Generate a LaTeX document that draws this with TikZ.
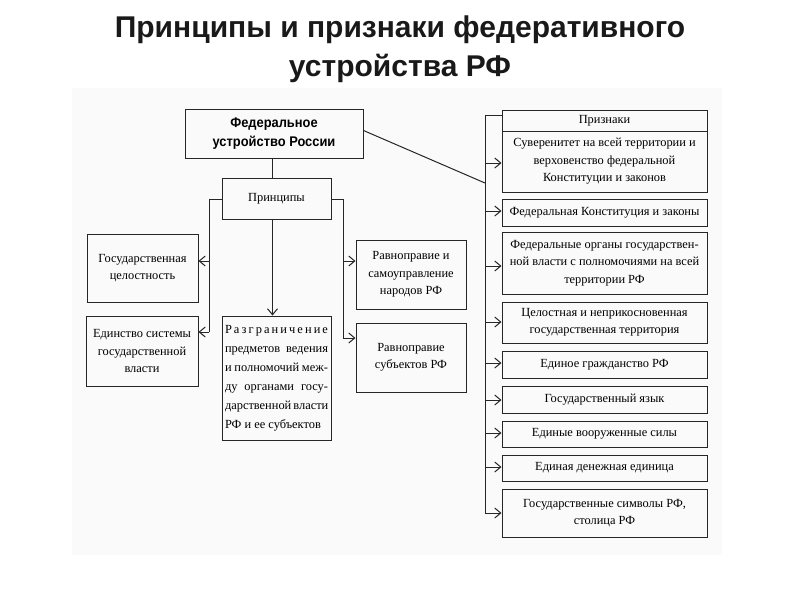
\documentclass[tikz,border=0pt]{standalone}
\usepackage{fontspec}
\setmainfont{Liberation Serif}
\newfontfamily\hsans{Liberation Sans}
\usetikzlibrary{arrows.meta}
\begin{document}
\begin{tikzpicture}[x=1pt,y=-1pt,
  box/.style={draw=black!85, line width=1pt, inner sep=2pt, align=center,
    font=\fontsize{12.4}{17.5}\selectfont, text=black},
  conn/.style={draw=black!85, line width=1pt},
  arr/.style={conn, -{Straight Barb[length=6pt,width=10pt]}}]
\useasboundingbox (0,0) rectangle (800,600);
\fill[gray!4] (72,88) rectangle (722,555);
% title
\node[font=\hsans\bfseries\fontsize{30}{39}\selectfont, align=center, text=black!90] (title) at (400,49.5)
  {Принципы и признаки федеративного\\устройства РФ};
% left part
\node[box, minimum width=178pt, minimum height=49pt, font=\hsans\bfseries\fontsize{14}{19}\selectfont] (fed) at (274,133.5)
  {\scalebox{0.92}[1]{Федеральное}\\\scalebox{0.92}[1]{устройство России}};
\node[box, minimum width=109pt, minimum height=41pt] (princ) at (276.5,198.5) {Принципы};
\node[box, minimum width=111pt, minimum height=68pt] (celost) at (142.5,268) {Государственная\\целостность};
\node[box, minimum width=112pt, minimum height=70pt] (edin) at (142,351) {Единство системы\\государственной\\власти};
\node[box, minimum width=109pt, minimum height=124pt, align=left, font=\fontsize{12.4}{19}\selectfont] (razgr) at (276.5,378)
  {\makebox[103pt][s]{Р а з г р а н и ч е н и е}\\
   \makebox[103pt][s]{предметов ведения}\\
   \makebox[103pt][s]{и полномочий меж-}\\
   \makebox[103pt][s]{ду органами госу-}\\
   \makebox[103pt][s]{дарственной власти}\\
   РФ и ее субъектов};
\node[box, minimum width=110pt, minimum height=69pt] (rav1) at (411,274.5) {Равноправие и\\самоуправление\\народов РФ};
\node[box, minimum width=110pt, minimum height=69pt] (rav2) at (411,357.5) {Равноправие\\субъектов РФ};
% right part
\node[box, minimum width=205pt, minimum height=21pt] (prz) at (604.5,120.5) {Признаки};
\node[box, minimum width=205pt, minimum height=61pt] (s1) at (604.5,161.5) {Суверенитет на всей территории и\\верховенство федеральной\\Конституции и законов};
\node[box, minimum width=205pt, minimum height=27pt] (s2) at (604.5,212.5) {Федеральная Конституция и законы};
\node[box, minimum width=205pt, minimum height=62pt] (s3) at (604.5,263) {Федеральные органы государствен-\\ной власти с полномочиями на всей\\территории РФ};
\node[box, minimum width=205pt, minimum height=41pt] (s4) at (604.5,322.5) {Целостная и неприкосновенная\\государственная территория};
\node[box, minimum width=205pt, minimum height=27pt] (s5) at (604.5,364.5) {Единое гражданство РФ};
\node[box, minimum width=205pt, minimum height=27pt] (s6) at (604.5,399.5) {Государственный язык};
\node[box, minimum width=205pt, minimum height=26pt] (s7) at (604.5,434) {Единые вооруженные силы};
\node[box, minimum width=205pt, minimum height=26pt] (s8) at (604.5,468) {Единая денежная единица};
\node[box, minimum width=205pt, minimum height=48pt] (s9) at (604.5,513) {Государственные символы РФ,\\столица РФ};
% coordinates
\coordinate (lt) at (209,199);
\coordinate (l1) at (209,261);
\coordinate (l2) at (209,332);
\coordinate (rt) at (343,199);
\coordinate (r1) at (343,261);
\coordinate (r2) at (343,338);
\coordinate (vt) at (485,115);
\coordinate (vm) at (485,183);
\coordinate (vb) at (485,513);
% connectors
\draw[conn] (fed.south -| princ.north) ++(-4,0) coordinate (fs) -- (fs |- princ.north);
\draw[arr] (princ.south) ++(-4,0) coordinate (ps) -- (ps |- razgr.north);
\draw[conn] (princ.west |- lt) -- (lt) -- (l2);
\draw[arr] (l1) -- (celost.east |- l1);
\draw[arr] (l2) -- (edin.east |- l2);
\draw[conn] (princ.east |- rt) -- (rt) -- (r2);
\draw[arr] (r1) -- (rav1.west |- r1);
\draw[arr] (r2) -- (rav2.west |- r2);
\draw[conn] (fed.east) ++(0,-3) -- (vm);
\draw[conn] (prz.west |- vt) -- (vt) -- (vb);
\foreach \n/\y in {s1/163,s2/211,s3/266,s4/322,s5/363,s6/400,s7/433,s8/467,s9/513}
  \draw[arr] (485,\y) -- (\n.west |- 485,\y);
\end{tikzpicture}
\end{document}
